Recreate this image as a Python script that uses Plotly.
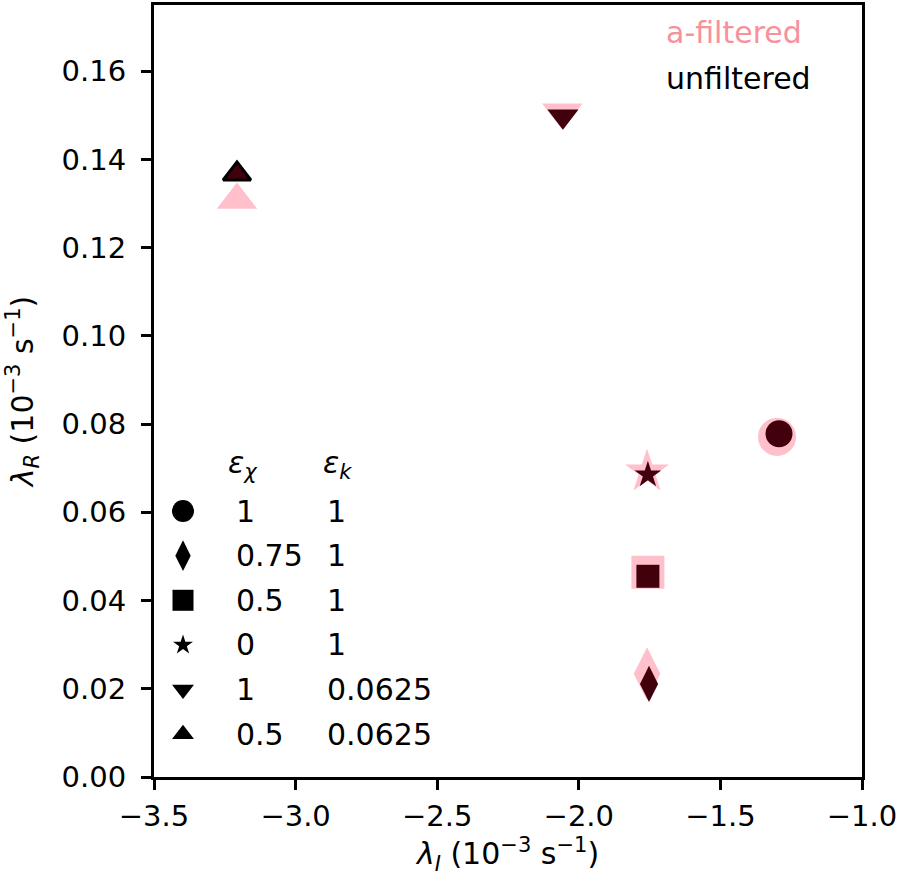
import plotly.graph_objects as go

# ---- data ----
symbols = ["circle", "diamond-tall", "square", "star", "triangle-down", "triangle-up"]
eps_chi = ["1", "0.75", "0.5", "0", "1", "0.5"]
eps_k = ["1", "1", "1", "1", "0.0625", "0.0625"]
lamI_unf = [-1.293, -1.752, -1.756, -1.756, -2.056, -3.207]
lamR_unf = [0.0778, 0.0211, 0.0455, 0.0685, 0.1498, 0.1367]
lamI_filt = [-1.300, -1.759, -1.756, -1.759, -2.058, -3.207]
lamR_filt = [0.0771, 0.0234, 0.0464, 0.0692, 0.1507, 0.1308]

# ---- styles ----
DARK = "#42000c"
PINK = "#ffc0cb"
PINK_TXT = "#f7919c"
size_filt = [38, 38, 33, 33, 35, 35]
size_unf = [27, 26, 23, 20, 27, 24]
size_leg = [22, 22, 21, 15, 19, 19]
line_unf = [0, 0, 0, 0, 0, 3]
FONT = "DejaVu Sans"
FS = 30
FS_TICK = 29

W, H = 900, 883
L, R, T, B = 154, 38, 2, 106
PW, PH = W - L - R, H - T - B

fig = go.Figure()
fig.add_trace(go.Scatter(
    x=lamI_filt, y=lamR_filt, mode="markers",
    marker=dict(symbol=symbols, size=size_filt, color=PINK, opacity=1, line=dict(width=0)),
    showlegend=False, hoverinfo="skip"))
fig.add_trace(go.Scatter(
    x=lamI_unf, y=lamR_unf, mode="markers",
    marker=dict(symbol=symbols, size=size_unf, color=DARK, opacity=1,
                line=dict(width=line_unf, color="black")),
    showlegend=False, hoverinfo="skip"))

# ---- table-style legend (overlay axes in pixel units of plot area) ----
row0, dy = 267, 44.8
rows_y = [row0 - i * dy for i in range(len(symbols))]
fig.add_trace(go.Scatter(
    x=[29] * len(symbols), y=rows_y, mode="markers", xaxis="x2", yaxis="y2",
    marker=dict(symbol=symbols, size=size_leg, color="black", opacity=1, line=dict(width=0)),
    showlegend=False, hoverinfo="skip", cliponaxis=False))

ann = []
ann.append(dict(x=72, y=row0 + dy + 2, xref="x2", yref="y2", xanchor="left", yanchor="middle",
                text="<i>ε</i><sub><i>χ</i></sub>", showarrow=False,
                font=dict(family=FONT, size=FS, color="black")))
ann.append(dict(x=167, y=row0 + dy + 2, xref="x2", yref="y2", xanchor="left", yanchor="middle",
                text="<i>ε</i><sub><i>k</i></sub>", showarrow=False,
                font=dict(family=FONT, size=FS, color="black")))
for yy, a, b in zip(rows_y, eps_chi, eps_k):
    ann.append(dict(x=80, y=yy, xref="x2", yref="y2", xanchor="left", yanchor="middle",
                    text=a, showarrow=False, font=dict(family=FONT, size=FS, color="black")))
    ann.append(dict(x=171, y=yy, xref="x2", yref="y2", xanchor="left", yanchor="middle",
                    text=b, showarrow=False, font=dict(family=FONT, size=FS, color="black")))

ann.append(dict(x=510, y=747, xref="x2", yref="y2", xanchor="left", yanchor="middle",
                text="a-filtered", showarrow=False,
                font=dict(family=FONT, size=FS, color=PINK_TXT)))
ann.append(dict(x=510, y=701, xref="x2", yref="y2", xanchor="left", yanchor="middle",
                text="unfiltered", showarrow=False,
                font=dict(family=FONT, size=FS, color="black")))

axis_common = dict(showline=True, linewidth=3, linecolor="black", mirror=True,
                   ticks="outside", ticklen=10, tickwidth=3, tickcolor="black",
                   showgrid=False, zeroline=False,
                   tickfont=dict(family=FONT, size=FS_TICK, color="black"))

fig.update_layout(
    width=W, height=H,
    margin=dict(l=L, r=R, t=T, b=B),
    plot_bgcolor="white", paper_bgcolor="white",
    font=dict(family=FONT, size=FS, color="black"),
    xaxis=dict(range=[-3.5, -1.0], tickvals=[-3.5, -3.0, -2.5, -2.0, -1.5, -1.0],
               tickformat=".1f", ticklabelstandoff=1,
               title=dict(text="<i>λ</i><sub><i>I</i></sub> (10<sup>−3</sup> s<sup>−1</sup>)",
                          font=dict(family=FONT, size=FS), standoff=12),
               **axis_common),
    yaxis=dict(range=[0, 0.175], tickvals=[0, 0.02, 0.04, 0.06, 0.08, 0.10, 0.12, 0.14, 0.16],
               tickformat=".2f", ticklabelstandoff=9,
               title=dict(text="<i>λ</i><sub><i>R</i></sub> (10<sup>−3</sup> s<sup>−1</sup>)",
                          font=dict(family=FONT, size=FS), standoff=20),
               **axis_common),
    xaxis2=dict(range=[0, PW], overlaying="x", visible=False, fixedrange=True),
    yaxis2=dict(range=[0, PH], overlaying="y", visible=False, fixedrange=True),
    annotations=ann,
)

fig.write_html("out.html", config={"displayModeBar": False},
               post_script="document.body.style.margin='0';document.body.style.overflow='hidden';")
